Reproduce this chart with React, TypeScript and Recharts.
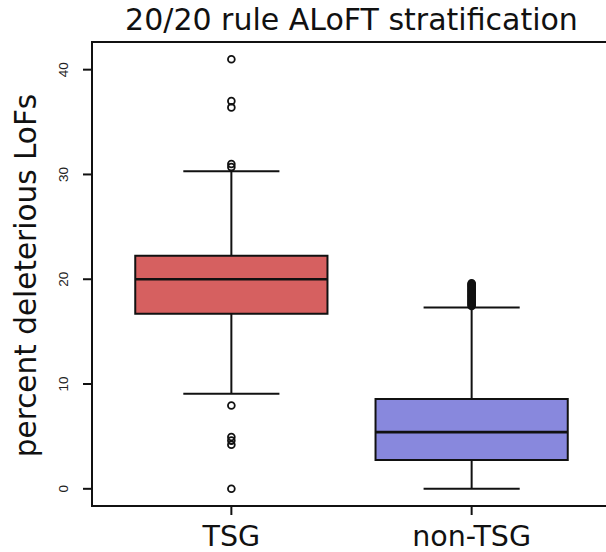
import React from "react";
import {
  ComposedChart,
  XAxis,
  YAxis,
  Scatter,
  ReferenceArea,
  ReferenceLine,
} from "recharts";

const categories = ["TSG", "non-TSG"];
const positions = [1, 2];
const lowerWhisker = [9.07, 0];
const q1 = [16.7, 2.74];
const median = [20.0, 5.41];
const q3 = [22.24, 8.56];
const upperWhisker = [30.3, 17.3];
const fills = ["#d66060", "#8888dd"];
const tsgOutliers = [41.0, 37.0, 36.4, 31.0, 30.7, 7.95, 4.95, 4.6, 4.2, 0];
const nonTsgOutliers = [
  17.45, 17.55, 17.65, 17.75, 17.85, 17.95, 18.05, 18.15, 18.25, 18.35, 18.45,
  18.55, 18.65, 18.75, 18.85, 18.95, 19.05, 19.15, 19.25, 19.35, 19.45, 19.55,
  19.62,
];
const yTicks = [0, 10, 20, 30, 40];
const title = "20/20 rule ALoFT stratification";
const yLabel = "percent deleterious LoFs";

const outlierData = [
  ...tsgOutliers.map((v) => ({ x: positions[0], y: v })),
  ...nonTsgOutliers.map((v) => ({ x: positions[1], y: v })),
];

const HALF_BOX = 0.4;
const HALF_CAP = 0.2;
const X_DOMAIN = [0.42, 2.58];
const Y_DOMAIN = [-1.64, 42.64];

const OpenCircle = (props: any) => {
  const { cx, cy } = props;
  if (cx == null || cy == null) return null;
  return <circle cx={cx} cy={cy} r={3.4} fill="none" stroke="#111" strokeWidth={1.8} />;
};

const YTick = (props: any) => {
  const { y, payload } = props;
  return (
    <text
      x={68}
      y={y}
      transform={`rotate(-90, 68, ${y})`}
      textAnchor="middle"
      fontFamily="'Liberation Sans', Arial, sans-serif"
      fontSize={13.5}
      fill="#222"
    >
      {payload.value}
    </text>
  );
};

const XTick = (props: any) => {
  const { x, payload } = props;
  const idx = positions.indexOf(payload.value);
  return (
    <text
      x={x}
      y={546}
      textAnchor="middle"
      fontFamily="'DejaVu Sans', sans-serif"
      fontSize={28.5}
      fill="#111"
    >
      {idx >= 0 ? categories[idx] : ""}
    </text>
  );
};

export default function App() {
  const lineProps = { stroke: "#111", strokeWidth: 2, ifOverflow: "visible" as const };
  return (
    <div
      style={{
        position: "absolute",
        left: 0,
        top: 0,
        width: 606,
        height: 552,
        overflow: "hidden",
        background: "#fff",
      }}
    >
      <ComposedChart
        width={620}
        height={552}
        margin={{ top: 42, right: 9, bottom: 0, left: 0 }}
        data={outlierData}
      >
        <XAxis
          type="number"
          dataKey="x"
          domain={X_DOMAIN}
          ticks={positions}
          allowDataOverflow
          axisLine={false}
          tickSize={9}
          tickLine={{ stroke: "#111", strokeWidth: 2 }}
          tick={<XTick />}
          height={46}
        />
        <YAxis
          type="number"
          dataKey="y"
          domain={Y_DOMAIN}
          ticks={yTicks}
          allowDataOverflow
          axisLine={false}
          tickSize={9}
          tickLine={{ stroke: "#111", strokeWidth: 2 }}
          tick={<YTick />}
          width={92}
        />
        <ReferenceArea
          x1={X_DOMAIN[0]}
          x2={X_DOMAIN[1]}
          y1={Y_DOMAIN[0]}
          y2={Y_DOMAIN[1]}
          fill="none"
          fillOpacity={0}
          stroke="#111"
          strokeWidth={2}
          ifOverflow="visible"
        />
        {positions.map((p, i) => (
          <ReferenceArea
            key={`box${i}`}
            x1={p - HALF_BOX}
            x2={p + HALF_BOX}
            y1={q1[i]}
            y2={q3[i]}
            fill={fills[i]}
            fillOpacity={1}
            stroke="#111"
            strokeWidth={2}
            ifOverflow="visible"
          />
        ))}
        {positions.map((p, i) => (
          <ReferenceLine
            key={`med${i}`}
            segment={[
              { x: p - HALF_BOX, y: median[i] },
              { x: p + HALF_BOX, y: median[i] },
            ]}
            {...lineProps}
            strokeWidth={2.6}
          />
        ))}
        {positions.map((p, i) => (
          <ReferenceLine
            key={`wu${i}`}
            segment={[
              { x: p, y: q3[i] },
              { x: p, y: upperWhisker[i] },
            ]}
            {...lineProps}
          />
        ))}
        {positions.map((p, i) => (
          <ReferenceLine
            key={`wl${i}`}
            segment={[
              { x: p, y: q1[i] },
              { x: p, y: lowerWhisker[i] },
            ]}
            {...lineProps}
          />
        ))}
        {positions.map((p, i) => (
          <ReferenceLine
            key={`cu${i}`}
            segment={[
              { x: p - HALF_CAP, y: upperWhisker[i] },
              { x: p + HALF_CAP, y: upperWhisker[i] },
            ]}
            {...lineProps}
          />
        ))}
        {positions.map((p, i) => (
          <ReferenceLine
            key={`cl${i}`}
            segment={[
              { x: p - HALF_CAP, y: lowerWhisker[i] },
              { x: p + HALF_CAP, y: lowerWhisker[i] },
            ]}
            {...lineProps}
          />
        ))}
        <Scatter
          data={outlierData}
          dataKey="y"
          shape={<OpenCircle />}
          isAnimationActive={false}
        />
        <text
          x={351.5}
          y={30}
          textAnchor="middle"
          fontFamily="'DejaVu Sans', sans-serif"
          fontSize={30}
          fill="#111"
        >
          {title}
        </text>
        <text
          x={36}
          y={275.5}
          transform="rotate(-90, 36, 275.5)"
          textAnchor="middle"
          fontFamily="'DejaVu Sans', sans-serif"
          fontSize={29.5}
          fill="#111"
        >
          {yLabel}
        </text>
      </ComposedChart>
    </div>
  );
}
